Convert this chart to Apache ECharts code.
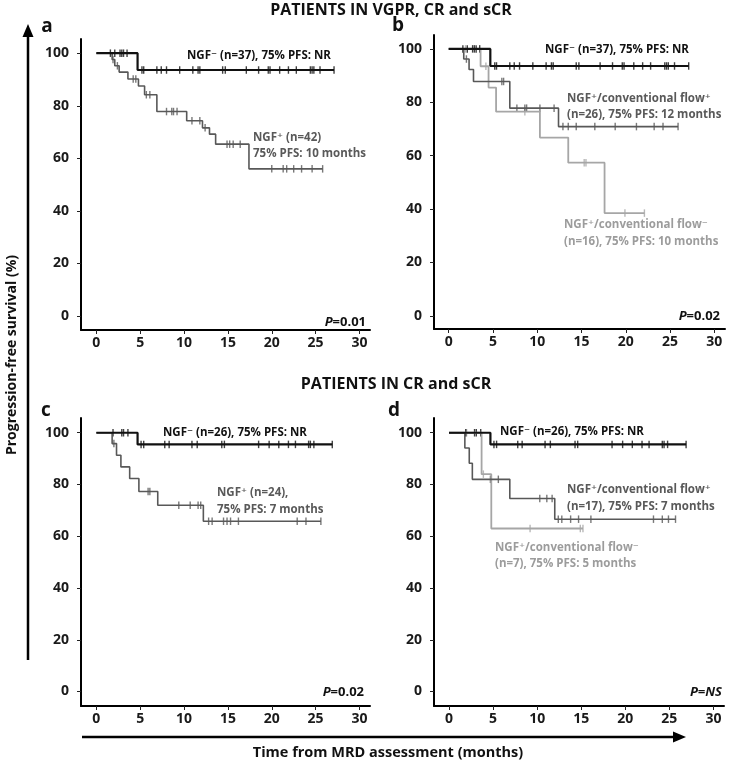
<!DOCTYPE html>
<html><head><meta charset="utf-8">
<script src="https://cdn.jsdelivr.net/npm/echarts@6/dist/echarts.min.js"></script>
<style>html,body{margin:0;padding:0;background:#fff}#c{width:729px;height:767px}</style>
</head><body><div id="c"></div>
<script>
// ---------- tick labels ----------
const xTicks = [0, 5, 10, 15, 20, 25, 30];
const yTicks = [0, 20, 40, 60, 80, 100];

// ---------- VGPR, CR and sCR: NGF- (n=37)  (panels a, b) ----------
const vNegT = [4.7];
const vNegS = [93.6];
const vNegEnd = 27.1;
const vNegC = [1.6, 2.1, 2.7, 2.9, 3.1, 3.5, 5.2, 5.4, 6.9, 7.4, 8.0, 9.5, 11.0, 11.6, 11.8, 14.4, 14.7, 17.1, 18.5, 19.6, 19.8, 20.9, 21.9, 22.8, 24.4, 24.6, 24.8, 25.5, 27.1];

// panel a: NGF+ (n=42)
const aPosT = [1.8, 2.1, 2.6, 3.6, 4.8, 5.5, 6.9, 10.3, 12.1, 12.9, 13.6, 17.4];
const aPosS = [97.6, 95.2, 92.8, 90.2, 87.5, 84.2, 77.8, 74.3, 71.6, 69.2, 65.4, 56.0];
const aPosEnd = 25.8;
const aPosC = [1.9, 2.4, 4.2, 4.5, 5.7, 6.1, 8.0, 8.6, 8.8, 9.2, 10.9, 11.8, 12.4, 14.9, 15.2, 15.6, 16.4, 20.0, 21.3, 21.7, 22.5, 23.4, 24.6, 25.8];

// panel b: NGF+/conventional flow+ (n=26)
const bFpT = [1.7, 2.3, 2.8, 6.9, 12.4];
const bFpS = [96.2, 92.3, 87.8, 77.8, 70.9];
const bFpEnd = 25.9;
const bFpC = [2.0, 6.0, 6.2, 7.7, 8.6, 8.8, 10.3, 11.9, 12.9, 13.5, 14.4, 16.5, 18.8, 21.2, 23.2, 24.2, 25.9];

// panel b: NGF+/conventional flow- (n=16)
const bFnT = [3.6, 4.5, 5.35, 10.3, 13.5, 17.6];
const bFnS = [93.5, 85.5, 76.5, 66.8, 57.4, 38.5];
const bFnEnd = 22.1;
const bFnC = [1.9, 4.2, 8.6, 15.3, 15.5, 19.9, 22.1];

// ---------- CR and sCR: NGF- (n=26)  (panels c, d) ----------
const cNegT = [4.7];
const cNegS = [95.5];
const cNegEnd = 26.9;
const cNegC = [1.9, 2.9, 3.1, 3.6, 5.1, 5.4, 7.8, 8.3, 10.9, 11.5, 14.3, 14.6, 18.5, 19.7, 20.8, 21.9, 22.7, 24.2, 24.4, 24.8, 26.9];

// panel c: NGF+ (n=24)
const cPosT = [1.8, 2.3, 2.8, 3.8, 4.85, 7.0, 12.2];
const cPosS = [95.8, 91.3, 86.8, 82.3, 77.3, 72.0, 65.8];
const cPosEnd = 25.6;
const cPosC = [2.0, 5.9, 6.1, 9.4, 10.7, 11.6, 11.9, 12.8, 13.2, 14.5, 14.9, 15.3, 16.2, 22.9, 23.9, 25.6];

// panel d: NGF+/conventional flow+ (n=17)
const dFpT = [1.8, 2.3, 2.65, 6.9, 12.0];
const dFpS = [94.1, 88.2, 82.0, 74.6, 66.6];
const dFpEnd = 25.7;
const dFpC = [4.7, 5.6, 10.3, 11.1, 11.7, 12.4, 12.8, 13.8, 14.7, 16.1, 23.2, 24.2, 24.9, 25.7];

// panel d: NGF+/conventional flow- (n=7)
const dFnT = [3.7, 4.8];
const dFnS = [84.0, 63.0];
const dFnEnd = 15.2;
const dFnC = [2.0, 3.9, 9.2, 14.9, 15.2];

// ---------- helpers ----------
const FONT = '"Open Sans", "DejaVu Sans", sans-serif';
const SUPFONT = '"DejaVu Sans", sans-serif';
const BLACK = '#111111', DARK = '#585858', LIGHT = '#a6a6a6';

function km(T, S, end) {
  const d = [[0, 100]];
  T.forEach((t, i) => d.push([t, S[i]]));
  d.push([end, S[S.length - 1]]);
  return d;
}
function survAt(T, S, t) {
  let s = 100;
  for (let i = 0; i < T.length; i++) if (T[i] <= t) s = S[i];
  return s;
}
function cens(T, S, C) { return C.map(t => [t, survAt(T, S, t)]); }

function curve(idx, T, S, end, C, color, width) {
  return [
    { type: 'line', step: 'end', xAxisIndex: idx, yAxisIndex: idx, data: km(T, S, end),
      symbol: 'none', lineStyle: { color: color, width: width }, silent: true, animation: false },
    { type: 'scatter', xAxisIndex: idx, yAxisIndex: idx, data: cens(T, S, C),
      symbol: 'rect', symbolSize: [1.4, 7.5], itemStyle: { color: color }, silent: true, animation: false }
  ];
}

const grids = [
  { left: 81, top: 39, width: 289, height: 291 },
  { left: 434, top: 35, width: 291, height: 294 },
  { left: 81, top: 418, width: 289, height: 288 },
  { left: 434, top: 418, width: 290, height: 288 }
];
const xr = [[-1.75, 31.2], [-1.66, 31.2], [-1.75, 31.2], [-1.7, 31.2]];
const yr = [[-5.3, 105.4], [-4.9, 105.2], [-5.6, 105.7], [-5.6, 105.7]];

function xAx(i) {
  return { type: 'value', gridIndex: i, min: xr[i][0], max: xr[i][1],
    axisLine: { show: true, onZero: false, lineStyle: { color: '#000', width: 2 } },
    axisTick: { show: true, customValues: xTicks, length: 4, lineStyle: { color: '#222', width: 1 } },
    axisLabel: { customValues: xTicks, margin: 6, fontSize: 14, fontWeight: 'bold', color: '#1a1a1a', fontFamily: FONT },
    splitLine: { show: false } };
}
function yAx(i) {
  return { type: 'value', gridIndex: i, min: yr[i][0], max: yr[i][1],
    axisLine: { show: true, onZero: false, lineStyle: { color: '#000', width: 2 } },
    axisTick: { show: true, customValues: yTicks, length: 4, lineStyle: { color: '#222', width: 1 } },
    axisLabel: { customValues: yTicks, margin: 12, fontSize: 14, fontWeight: 'bold', color: '#1a1a1a', fontFamily: FONT },
    splitLine: { show: false } };
}

function txt(x, y, s, opt) {
  return { type: 'text', x: x, y: y, silent: true,
    style: Object.assign({ text: s, fontFamily: FONT, fontSize: 11.5, fill: '#111',
      textAlign: 'left', textVerticalAlign: 'middle' }, opt || {}) };
}
// curve label with superscript +/- drawn from a font that has the glyphs
function lab(x, y, s, fill) {
  const rt = s.replace(/([\u207A\u207B])/g, '{s|$1}');
  return { type: 'text', x: x, y: y, silent: true,
    style: { text: rt, fontFamily: FONT, fontSize: 11.5, fontWeight: 'bold', fill: fill,
      textAlign: 'left', textVerticalAlign: 'middle',
      rich: { s: { fontFamily: SUPFONT, fontSize: 11.5, fontWeight: 'bold', fill: fill } } } };
}
function pval(xr_, y, s) {
  return { type: 'text', x: xr_, y: y, silent: true,
    style: { text: '{i|P}{n|=' + s + '}', textAlign: 'right', textVerticalAlign: 'middle', fontFamily: FONT,
      rich: { i: { fontStyle: 'italic', fontWeight: 'bold', fontSize: 13, fontFamily: FONT, fill: '#111' },
              n: { fontWeight: 'bold', fontSize: 13, fontFamily: FONT, fill: '#111' } } } };
}

const CB = '#111', CD = '#595959', CL = '#9c9c9c';

const graphics = [
  // section titles
  txt(391, 10, 'PATIENTS IN VGPR, CR and sCR', { textAlign: 'center', fontWeight: 'bold', fontSize: 16 }),
  txt(396, 384, 'PATIENTS IN CR and sCR', { textAlign: 'center', fontWeight: 'bold', fontSize: 16 }),
  // panel letters
  txt(47, 27, 'a', { textAlign: 'center', fontWeight: 'bold', fontSize: 19 }),
  txt(398, 26, 'b', { textAlign: 'center', fontWeight: 'bold', fontSize: 19 }),
  txt(46, 411, 'c', { textAlign: 'center', fontWeight: 'bold', fontSize: 19 }),
  txt(394, 411, 'd', { textAlign: 'center', fontWeight: 'bold', fontSize: 19 }),
  // panel a
  lab(187, 56, 'NGF\u207B (n=37), 75% PFS: NR', CB),
  lab(253, 138, 'NGF\u207A (n=42)', CD),
  lab(253, 154, '75% PFS: 10 months', CD),
  // panel b
  lab(545, 50, 'NGF\u207B (n=37), 75% PFS: NR', CB),
  lab(567, 99, 'NGF\u207A/conventional flow\u207A', CD),
  lab(567, 115, '(n=26), 75% PFS: 12 months', CD),
  lab(564, 225, 'NGF\u207A/conventional flow\u207B', CL),
  lab(564, 242, '(n=16), 75% PFS: 10 months', CL),
  // panel c
  lab(163, 433, 'NGF\u207B (n=26), 75% PFS: NR', CB),
  lab(217, 493, 'NGF\u207A (n=24),', CD),
  lab(217, 510, '75% PFS: 7 months', CD),
  // panel d
  lab(500, 432, 'NGF\u207B (n=26), 75% PFS: NR', CB),
  lab(567, 490, 'NGF\u207A/conventional flow\u207A', CD),
  lab(567, 507, '(n=17), 75% PFS: 7 months', CD),
  lab(495, 548, 'NGF\u207A/conventional flow\u207B', CL),
  lab(495, 564, '(n=7), 75% PFS: 5 months', CL),
  // p values
  pval(366, 322, '0.01'),
  pval(720, 316, '0.02'),
  pval(364, 692, '0.02'),
  { type: 'text', x: 722, y: 692, silent: true,
    style: { text: '{i|P=NS}', textAlign: 'right', textVerticalAlign: 'middle',
      rich: { i: { fontStyle: 'italic', fontWeight: 'bold', fontSize: 13, fontFamily: FONT, fill: '#111' } } } },
  // axis titles
  { type: 'text', x: 12, y: 355, rotation: Math.PI / 2, silent: true,
    style: { text: 'Progression-free survival (%)', fontFamily: FONT, fontSize: 14, fontWeight: 'bold', fill: '#111',
      textAlign: 'center', textVerticalAlign: 'middle' } },
  txt(388, 753, 'Time from MRD assessment (months)', { textAlign: 'center', fontWeight: 'bold', fontSize: 14.5 }),
  // big arrows
  { type: 'line', silent: true, shape: { x1: 28, y1: 660, x2: 28, y2: 34 }, style: { stroke: '#000', lineWidth: 2.5 } },
  { type: 'polygon', silent: true, shape: { points: [[22.5, 37], [33.5, 37], [28, 24]] }, style: { fill: '#000' } },
  { type: 'line', silent: true, shape: { x1: 82, y1: 737, x2: 676, y2: 737 }, style: { stroke: '#000', lineWidth: 2.5 } },
  { type: 'polygon', silent: true, shape: { points: [[673, 731.5], [673, 742.5], [686, 737]] }, style: { fill: '#000' } }
];

const series = [].concat(
  curve(0, aPosT, aPosS, aPosEnd, aPosC, DARK, 1.6),
  curve(0, vNegT, vNegS, vNegEnd, vNegC, BLACK, 2.2),
  curve(1, bFnT, bFnS, bFnEnd, bFnC, LIGHT, 1.8),
  curve(1, bFpT, bFpS, bFpEnd, bFpC, DARK, 1.6),
  curve(1, vNegT, vNegS, vNegEnd, vNegC, BLACK, 2.2),
  curve(2, cPosT, cPosS, cPosEnd, cPosC, DARK, 1.6),
  curve(2, cNegT, cNegS, cNegEnd, cNegC, BLACK, 2.2),
  curve(3, dFnT, dFnS, dFnEnd, dFnC, LIGHT, 1.8),
  curve(3, dFpT, dFpS, dFpEnd, dFpC, DARK, 1.6),
  curve(3, cNegT, cNegS, cNegEnd, cNegC, BLACK, 2.2)
);

const chart = echarts.init(document.getElementById('c'), null, { renderer: 'canvas' });
chart.setOption({
  animation: false,
  backgroundColor: '#fff',
  grid: grids,
  xAxis: [0, 1, 2, 3].map(xAx),
  yAxis: [0, 1, 2, 3].map(yAx),
  series: series,
  graphic: graphics
});
</script></body></html>
